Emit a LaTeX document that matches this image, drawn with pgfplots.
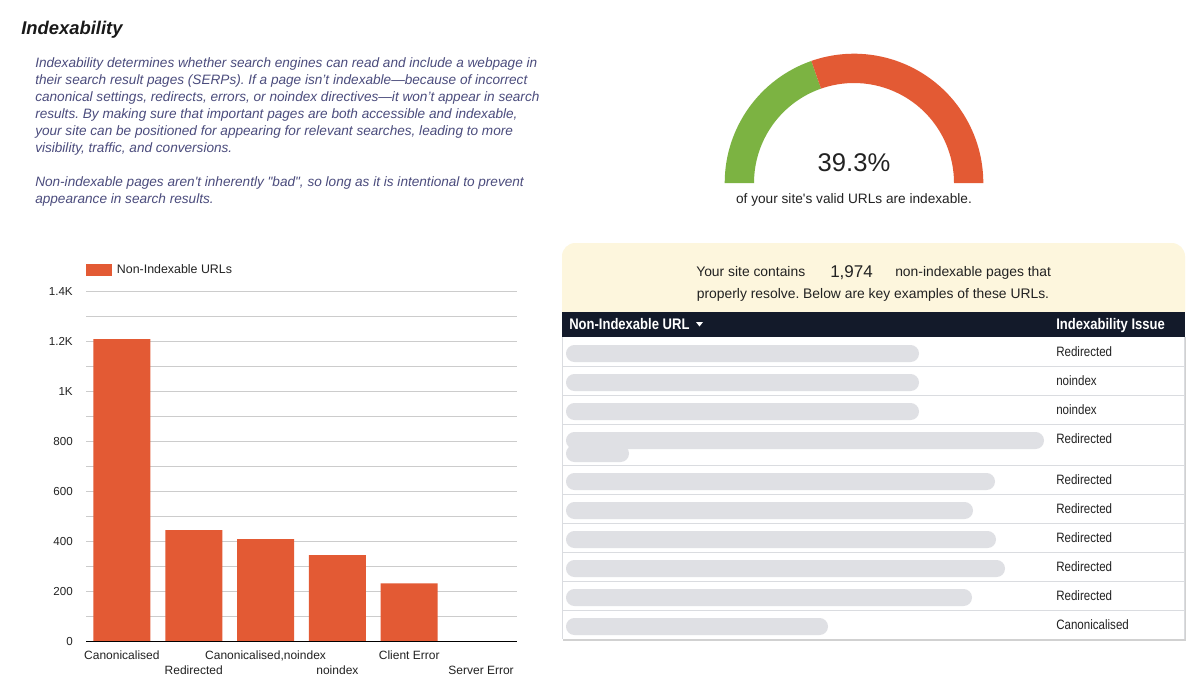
\documentclass[border=0pt]{standalone}
\usepackage{pgfplots}
\pgfplotsset{compat=1.18}
\usepackage{fontspec}
\setmainfont{Liberation Sans}
\newfontfamily\condfont{Liberation Sans}[FakeStretch=0.85]
\definecolor{barorange}{HTML}{E35A34}
\definecolor{gaugegreen}{HTML}{7CB342}
\definecolor{navy}{HTML}{131A2A}
\definecolor{cardyellow}{HTML}{FDF6DD}
\definecolor{pill}{HTML}{DFE0E4}
\definecolor{sep}{HTML}{DADCE0}
\definecolor{desc}{HTML}{4B4C7D}
\definecolor{gridgray}{HTML}{CCCCCC}
\definecolor{txt}{HTML}{222222}
\def\indexablepct{39.3}
\pgfmathsetmacro\ga{180-1.8*\indexablepct}
\frenchspacing
\begin{document}
\begin{tikzpicture}
\begin{scope}[x=0.75pt,y=-0.75pt]
\path[use as bounding box] (0,0) rectangle (1200,700);
\fill[white] (0,0) rectangle (1200,700);
\coordinate (chartsw) at (86,641);
\coordinate (gc) at (854,183);
% title and description
\node[anchor=base west,inner sep=0pt,font=\fontsize{13.8}{16}\selectfont\bfseries\itshape,text=black!90] at (21,34.3) {Indexability};
\begin{scope}[every node/.style={anchor=base west,inner sep=0pt,font=\fontsize{10.2}{12}\selectfont\itshape,text=desc}]
\node at (35,67.7) {Indexability determines whether search engines can read and include a webpage in};
\node at (35,84.7) {their search result pages (SERPs). If a page isn’t indexable—because of incorrect};
\node at (35,101.7) {canonical settings, redirects, errors, or noindex directives—it won’t appear in search};
\node at (35,118.7) {results. By making sure that important pages are both accessible and indexable,};
\node at (35,135.7) {your site can be positioned for appearing for relevant searches, leading to more};
\node at (35,152.7) {visibility, traffic, and conversions.};
\node at (35,186.7) {Non-indexable pages aren\textquotesingle t inherently \textquotedbl bad\textquotedbl, so long as it is intentional to prevent};
\node at (35,203.7) {appearance in search results.};
\end{scope}
% gauge texts
\node[anchor=base,inner sep=0pt,font=\fontsize{19.2}{22}\selectfont,text=txt] at (854,171.7) {39.3\%};
\node[anchor=base,inner sep=0pt,font=\fontsize{10.25}{12}\selectfont,text=txt] at (854,203.3) {of your site\textquotesingle s valid URLs are indexable.};
% card
\fill[black!18] (562.5,337) rectangle (1186,641);
\fill[cardyellow] (562,312) [rounded corners=10pt] -- (562,243) -- (1185,243) [sharp corners] -- (1185,312) -- cycle;
\fill[navy] (562,312) rectangle (1185,337);
\fill[white] (562,337) rectangle (1185,639);
\draw[sep,line width=0.75pt] (562.4,337) -- (562.4,639);
\draw[sep,line width=0.75pt] (1184.6,337) -- (1184.6,639);
\foreach \yy in {366,395,424,465,494,523,552,581,610}
  \draw[sep,line width=0.75pt] (562,\yy) -- (1185,\yy);
\node[anchor=base west,inner sep=0pt,font=\fontsize{10.4}{12}\selectfont,text=txt] at (696,276) {Your site contains};
\node[anchor=base west,inner sep=0pt,font=\fontsize{12.75}{14}\selectfont,text=txt] at (830,277.3) {1,974};
\node[anchor=base west,inner sep=0pt,font=\fontsize{10.4}{12}\selectfont,text=txt] at (895,276) {non-indexable pages that};
\node[anchor=base,inner sep=0pt,font=\fontsize{10.4}{12}\selectfont,text=txt] at (873,298.3) {properly resolve. Below are key examples of these URLs.};
\node[anchor=base west,inner sep=0pt,font=\fontsize{11.5}{13}\selectfont\condfont\bfseries,text=white] at (569,329) {Non-Indexable URL};
\fill[white] (696,322) -- (703,322) -- (699.5,326.5) -- cycle;
\node[anchor=base west,inner sep=0pt,font=\fontsize{11.5}{13}\selectfont\condfont\bfseries,text=white] at (1056,329) {Indexability Issue};
% placeholder pills and issues
\foreach \top/\xe/\issue in {337/919/Redirected,366/919/noindex,395/919/noindex,424/1044/Redirected,465/995/Redirected,494/973/Redirected,523/996/Redirected,552/1005/Redirected,581/972/Redirected,610/828/Canonicalised}{
  \fill[pill,rounded corners=6.3pt] (566,\top+8) rectangle (\xe,\top+25);
  \node[anchor=base west,inner sep=0pt,font=\fontsize{10.2}{12}\selectfont\condfont,text=txt] at (1056,\top+19.5) {\issue};
}
\fill[pill,rounded corners=6.3pt] (566,445) rectangle (629,462);
\end{scope}
% gauge
\begin{axis}[at={(gc)},anchor=south,scale only axis,width=193.95pt,height=96.975pt,
  xmin=-1,xmax=1,ymin=0,ymax=1,hide axis,clip=false]
\fill[gaugegreen] ([shift={(180:96.975pt)}]axis cs:0,0) arc[start angle=180,end angle=\ga,radius=96.975pt]
  -- ([shift={(\ga:75pt)}]axis cs:0,0) arc[start angle=\ga,end angle=180,radius=75pt] -- cycle;
\fill[barorange] ([shift={(\ga:96.975pt)}]axis cs:0,0) arc[start angle=\ga,end angle=0,radius=96.975pt]
  -- ([shift={(0:75pt)}]axis cs:0,0) arc[start angle=0,end angle=\ga,radius=75pt] -- cycle;
\end{axis}
% bar chart
\begin{axis}[at={(chartsw)},anchor=south west,scale only axis,
  width=323.25pt,height=262.3pt,
  xmin=-0.5,xmax=5.5,ymin=0,ymax=1400,
  ybar,bar width=42.75pt,
  axis line style={draw=none},
  tick style={draw=none},major tick length=0pt,minor tick length=0pt,
  ytick={0,200,...,1400},
  yticklabels={0,200,400,600,800,1K,1.2K,1.4K},
  minor ytick={100,300,...,1300},
  ymajorgrids,yminorgrids,
  grid style={gridgray,line width=0.75pt},
  minor grid style={gridgray,line width=0.75pt},
  yticklabel style={font=\fontsize{8.7}{10}\selectfont,text=txt,inner sep=0pt,anchor=east,xshift=-9.75pt},
  xtick={0,...,5},
  xticklabels={{\strut Canonicalised},{\strut\\\strut Redirected},{\strut Canonicalised,noindex},{\strut\\\strut noindex},{\strut Client Error},{\strut\\\strut Server Error}},
  xticklabel style={font=\fontsize{9}{11.25}\selectfont,text=txt,inner sep=0pt,anchor=north,align=center,yshift=-5.6pt},
  legend style={at={(0,1)},anchor=west,yshift=16.1pt,draw=none,fill=none,inner sep=0pt,
     font=\fontsize{9.3}{11}\selectfont,text=txt},
  legend cell align=left,
  legend image code/.code={\fill[barorange] (0pt,-4.5pt) rectangle (19.5pt,4.5pt); \path (21pt,0pt);},
]
\addplot[fill=barorange,draw=none] coordinates {(0,1208) (1,444) (2,408) (3,344) (4,231) (5,0)};
\addlegendentry{Non-Indexable URLs}
\draw[black,line width=0.75pt] (axis cs:-0.5,0) -- (axis cs:5.5,0);
\end{axis}
\end{tikzpicture}
\end{document}
